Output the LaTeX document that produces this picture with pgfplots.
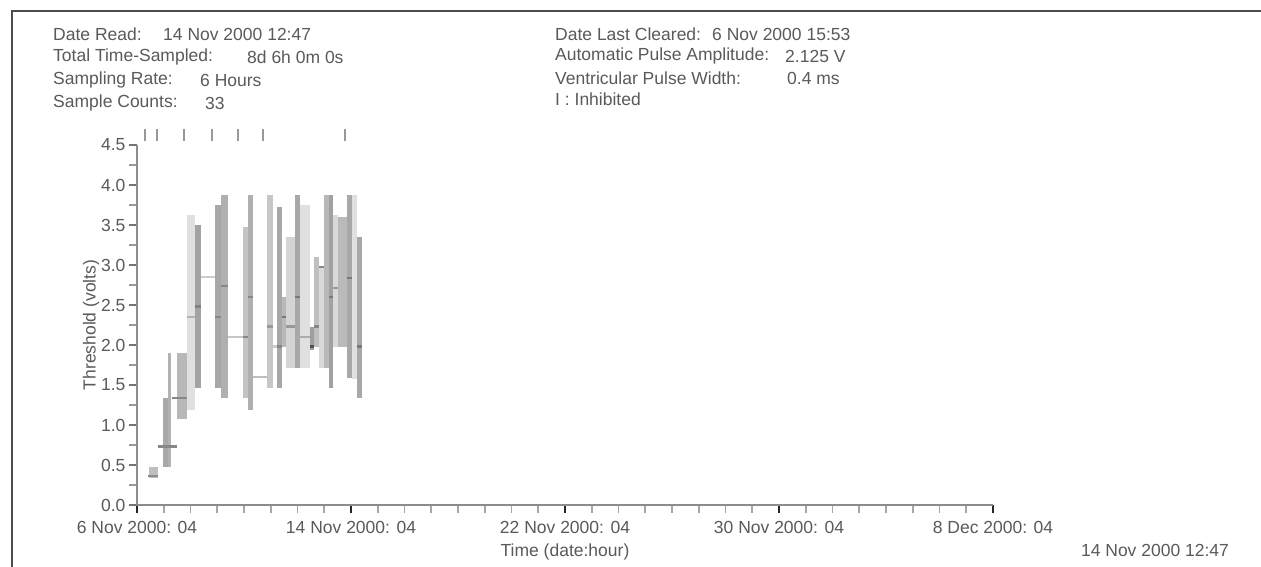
\documentclass[border=0pt]{standalone}
\usepackage{pgfplots}
\pgfplotsset{compat=1.18}
\usepackage{fontspec}
\setmainfont{Liberation Sans}
\definecolor{txt}{HTML}{5A5A5A}
\newcommand{\hf}{\fontsize{17.5bp}{20bp}\selectfont}
\newcommand{\lf}{\fontsize{17.5bp}{20bp}\selectfont}
% range bar: x1 x2 min max shade
\newcommand{\rb}[5]{\addplot[fill=black!#5, draw=none, forget plot] coordinates {(#1,#3) (#2,#3) (#2,#4) (#1,#4)} --cycle;}
% mean line: x1 x2 value shade
\newcommand{\mn}[4]{\addplot[draw=black!#4, line width=2.2bp, forget plot] coordinates {(#1,#3) (#2,#3)};}
\begin{document}
\begin{tikzpicture}
\useasboundingbox (0bp,0bp) rectangle (1261bp,567bp);
\fill[white] (0bp,0bp) rectangle (1261bp,567bp);
\draw[black!70, line width=1.5bp] (12bp,0bp) -- (12bp,556bp) -- (1261bp,556bp);
\begin{scope}[every node/.style={anchor=west, inner sep=0pt, text=txt, font=\hf}]
\node at (53bp,533bp) {Date Read:};
\node at (163bp,533bp) {14 Nov 2000 12:47};
\node at (53bp,510bp) {Total Time-Sampled:};
\node at (247bp,510bp) {8d 6h 0m 0s};
\node at (53bp,487bp) {Sampling Rate:};
\node at (200bp,487bp) {6 Hours};
\node at (53bp,464bp) {Sample Counts:};
\node at (205bp,464bp) {33};
\node at (555bp,533bp) {Date Last Cleared:};
\node at (712bp,533bp) {6 Nov 2000 15:53};
\node at (555bp,511bp) {Automatic Pulse Amplitude:};
\node at (785bp,511bp) {2.125 V};
\node at (555bp,489bp) {Ventricular Pulse Width:};
\node at (787bp,489bp) {0.4 ms};
\node at (555bp,468bp) {I : Inhibited};
\end{scope}
\node[anchor=center, inner sep=0pt, text=txt, font=\lf] at (1155bp,17bp) {14 Nov 2000 12:47};
\begin{axis}[
  at={(137bp,62bp)}, anchor=south west,
  scale only axis, width=856bp, height=360bp,
  xmin=0, xmax=32, ymin=0, ymax=4.5,
  clip=false,
  axis x line=bottom, axis y line=left,
  axis line style={-, black!45, line width=1.3bp},
  tick align=outside,
  major tick length=8bp, minor tick length=8bp,
  xtick={0,8,16,24,32},
  xticklabels={6 Nov 2000: 04, 14 Nov 2000: 04, 22 Nov 2000: 04, 30 Nov 2000: 04, 8 Dec 2000: 04},
  minor x tick num=7,
  ytick={0,0.5,1,1.5,2,2.5,3,3.5,4,4.5},
  minor y tick num=1,
  yticklabel style={/pgf/number format/.cd, fixed, fixed zerofill, precision=1},
  /pgf/number format/assume math mode=true,
  tick label style={font=\lf, text=txt},
  xticklabel style={yshift=-5bp},
  major x tick style={black!85, line width=1.8bp},
  minor x tick style={black!35, line width=1.6bp},
  major y tick style={black!55, line width=1.3bp},
  minor y tick style={black!40, line width=1.3bp},
  xlabel={Time (date:hour)}, ylabel={Threshold (volts)},
  every axis x label/.style={at={(axis description cs:0.5,0)}, anchor=center, yshift=-47bp, font=\lf, text=txt},
  every axis y label/.style={at={(axis description cs:0,0.5)}, xshift=-46bp, anchor=center, rotate=90, font=\lf, text=txt},
]
% inhibited markers
\addplot[only marks, mark=|, mark size=6bp, color=black!40, mark options={line width=2.5bp}]
  coordinates {(0.30,4.625) (0.75,4.625) (1.76,4.625) (2.80,4.625) (3.78,4.625) (4.71,4.625) (7.78,4.625)};
% range bars (min-max) and means
\rb{0.449}{0.785}{0.34}{0.47}{25}
\mn{0.40}{0.80}{0.36}{45}
\rb{0.972}{1.159}{0.47}{1.34}{34}
\rb{1.159}{1.270}{0.47}{1.90}{30}
\mn{0.785}{1.495}{0.73}{47}
\rb{1.495}{1.869}{1.07}{1.90}{28}
\mn{1.308}{1.869}{1.34}{47}
\rb{1.869}{2.168}{1.19}{3.63}{12}
\mn{1.869}{2.168}{2.35}{30}
\rb{2.168}{2.393}{1.46}{3.50}{36}
\mn{2.168}{2.393}{2.48}{50}
\mn{2.393}{2.916}{2.85}{20}
\rb{2.916}{3.140}{1.46}{3.75}{34}
\mn{2.916}{3.140}{2.35}{47}
\rb{3.140}{3.402}{1.34}{3.87}{31}
\mn{3.140}{3.402}{2.74}{47}
\mn{3.402}{3.963}{2.10}{22}
\rb{3.963}{4.150}{1.34}{3.48}{23}
\mn{3.963}{4.150}{2.10}{47}
\rb{4.150}{4.336}{1.19}{3.87}{31}
\mn{4.150}{4.336}{2.60}{47}
\mn{4.336}{4.860}{1.60}{25}
\rb{4.860}{5.084}{1.46}{3.87}{22}
\mn{4.860}{5.084}{2.23}{40}
\mn{5.084}{5.234}{1.98}{20}
\rb{5.234}{5.421}{1.46}{3.73}{34}
\mn{5.234}{5.421}{1.98}{47}
\rb{5.421}{5.570}{1.98}{2.60}{28}
\mn{5.421}{5.570}{2.35}{53}
\rb{5.570}{5.907}{1.71}{3.35}{17}
\mn{5.570}{5.907}{2.23}{40}
\rb{5.907}{6.093}{1.71}{3.87}{34}
\mn{5.907}{6.093}{2.60}{53}
\rb{6.093}{6.467}{1.71}{3.75}{12}
\mn{6.093}{6.467}{2.10}{33}
\rb{6.467}{6.617}{1.94}{2.23}{38}
\mn{6.467}{6.617}{1.98}{67}
\rb{6.617}{6.804}{1.98}{3.10}{25}
\mn{6.617}{6.804}{2.23}{47}
\rb{6.804}{6.991}{1.71}{2.98}{15}
\mn{6.804}{6.991}{2.97}{47}
\rb{6.991}{7.178}{1.71}{3.87}{28}
\rb{7.178}{7.327}{1.46}{3.87}{37}
\mn{7.178}{7.327}{2.60}{53}
\rb{7.327}{7.514}{1.98}{3.63}{15}
\mn{7.327}{7.514}{2.71}{40}
\rb{7.514}{7.850}{1.98}{3.60}{27}
\rb{7.850}{8.037}{1.59}{3.87}{34}
\mn{7.850}{8.037}{2.84}{53}
\rb{8.037}{8.224}{1.57}{3.87}{12}
\rb{8.224}{8.411}{1.34}{3.35}{34}
\mn{8.224}{8.411}{1.98}{53}
\end{axis}
\end{tikzpicture}
\end{document}
